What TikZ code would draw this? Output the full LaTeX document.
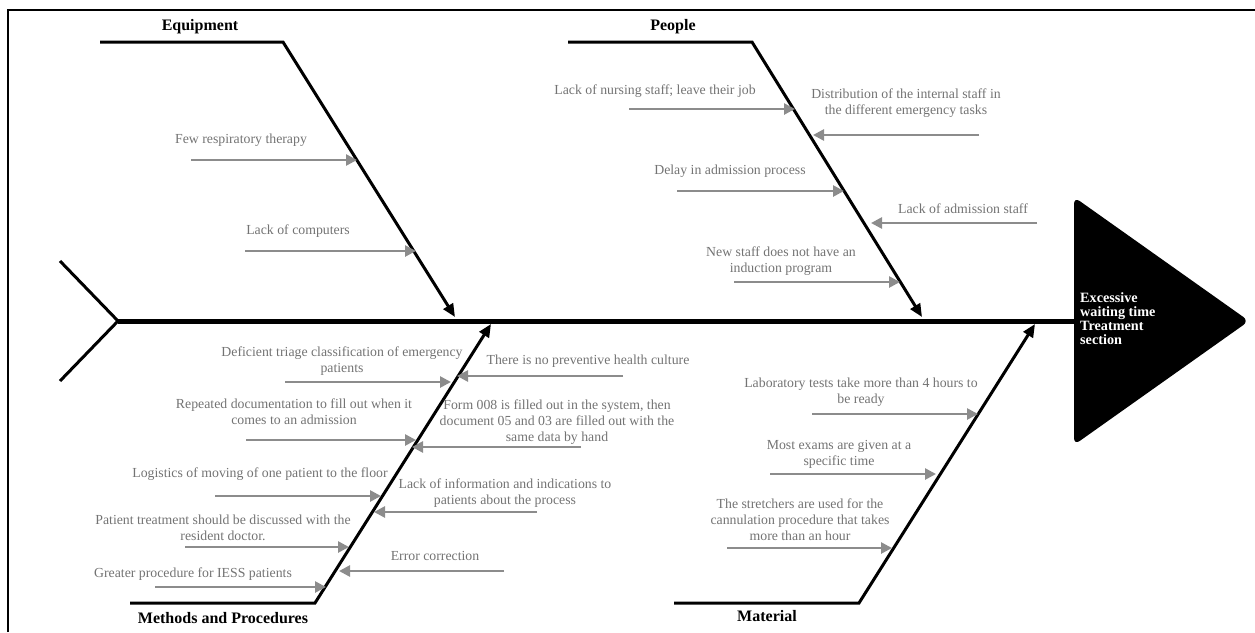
\documentclass[tikz,border=0pt]{standalone}
\usepackage{fontspec}
\setmainfont{Liberation Serif}
\usetikzlibrary{arrows.meta}
\definecolor{cgray}{RGB}{140,140,140}
\definecolor{tgray}{RGB}{115,115,115}
\tikzset{
  bone/.style={line width=3pt, black, line join=miter},
  bonearrow/.style={bone, -{Triangle[length=13pt,width=11pt]}},
  spine/.style={line width=5pt, black},
  cause/.style={draw=cgray, line width=2.6pt, -{Triangle[length=11pt,width=11pt]}},
  lbl/.style={text=tgray, font=\fontsize{13.8}{16}\selectfont, align=center, inner sep=0pt},
  cat/.style={font=\fontsize{16}{18}\selectfont\bfseries, inner sep=0pt},
}
\begin{document}
\begin{tikzpicture}[x=1pt,y=-1pt]
\useasboundingbox (0,0) rectangle (1255,632);
% frame
\draw[line width=1.6pt] (8,632) -- (8,10) -- (1255,10);
% head
\fill[black, rounded corners=7pt] (1074,197) -- (1249,321) -- (1074,445) -- cycle;
\node[anchor=west, text=white, align=left, font=\fontsize{14.2}{14}\selectfont\bfseries, inner sep=0pt] (head) at (1080,319)
  {Excessive\\waiting time\\Treatment\\section};
% spine and tail
\coordinate (sp0) at (118,321);
\coordinate (sp1) at (1076,321);
\coordinate (t1) at (60,261);
\coordinate (t2) at (60,381);
\draw[spine] (sp0) -- (sp1);
\draw[bone] (t1) -- (sp0) -- (t2);
% bones
\coordinate (e0) at (100,42); \coordinate (e1) at (283,42); \coordinate (e2) at (455,317);
\coordinate (p0) at (568,42); \coordinate (p1) at (752,42); \coordinate (p2) at (922,317);
\coordinate (m0) at (130,603); \coordinate (m1) at (315,603); \coordinate (m2) at (491,324);
\coordinate (r0) at (674,603); \coordinate (r1) at (859,603); \coordinate (r2) at (1035,324);
\draw[bonearrow] (e0) -- (e1) -- (e2);
\draw[bonearrow] (p0) -- (p1) -- (p2);
\draw[bonearrow] (m0) -- (m1) -- (m2);
\draw[bonearrow] (r0) -- (r1) -- (r2);
% category labels
\node[cat] (Leq) at (200,27) {Equipment};
\node[cat] (Lpe) at (673,27) {People};
\node[cat] (Lme) at (223,618) {Methods and Procedures};
\node[cat] (Lma) at (767,616) {Material};
% cause labels
\node[lbl] (c1) at (241,140) {Few respiratory therapy};
\node[lbl] (c2) at (298,231) {Lack of computers};
\node[lbl] (c3) at (655,91) {Lack of nursing staff; leave their job};
\node[lbl] (c4) at (906,103) {Distribution of the internal staff in\\the different emergency tasks};
\node[lbl] (c5) at (730,171) {Delay in admission process};
\node[lbl] (c6) at (963,209) {Lack of admission staff};
\node[lbl] (c7) at (781,261) {New staff does not have an\\induction program};
\node[lbl] (c8) at (342,361) {Deficient triage classification of emergency\\patients};
\node[lbl] (c9) at (588,361) {There is no preventive health culture};
\node[lbl] (c10) at (294,412) {Repeated documentation to fill out when it\\comes to an admission};
\node[lbl] (c11) at (557,422) {Form 008 is filled out in the system, then\\document 05 and 03 are filled out with the\\same data by hand};
\node[lbl] (c12) at (260,474) {Logistics of moving of one patient to the floor};
\node[lbl] (c13) at (505,493) {Lack of information and indications to\\patients about the process};
\node[lbl] (c14) at (223,528) {Patient treatment should be discussed with the\\resident doctor.};
\node[lbl] (c15) at (435,556) {Error correction};
\node[lbl] (c16) at (193,574) {Greater procedure for IESS patients};
\node[lbl] (c17) at (861,392) {Laboratory tests take more than 4 hours to\\be ready};
\node[lbl] (c18) at (839,454) {Most exams are given at a\\specific time};
\node[lbl] (c19) at (800,520) {The stretchers are used for the\\cannulation procedure that takes\\more than an hour};
% cause arrows
\foreach \i/\xa/\xb/\y in {1/191/357/160, 2/245/416/251, 3/629/795/109, 4/979/813/135,
  5/677/844/191, 6/1037/871/223, 7/734/900/282, 8/285/451/382, 9/623/457/376,
  10/246/416/440, 11/581/412/447, 12/215/381/496, 13/537/374/512, 14/185/349/547,
  15/504/339/571, 16/155/326/587, 17/812/978/414, 18/770/936/474, 19/727/892/548}{
  \coordinate (s\i) at (\xa,\y);
  \coordinate (f\i) at (\xb,\y);
  \draw[cause] (s\i) -- (f\i);
}
\end{tikzpicture}
\end{document}
